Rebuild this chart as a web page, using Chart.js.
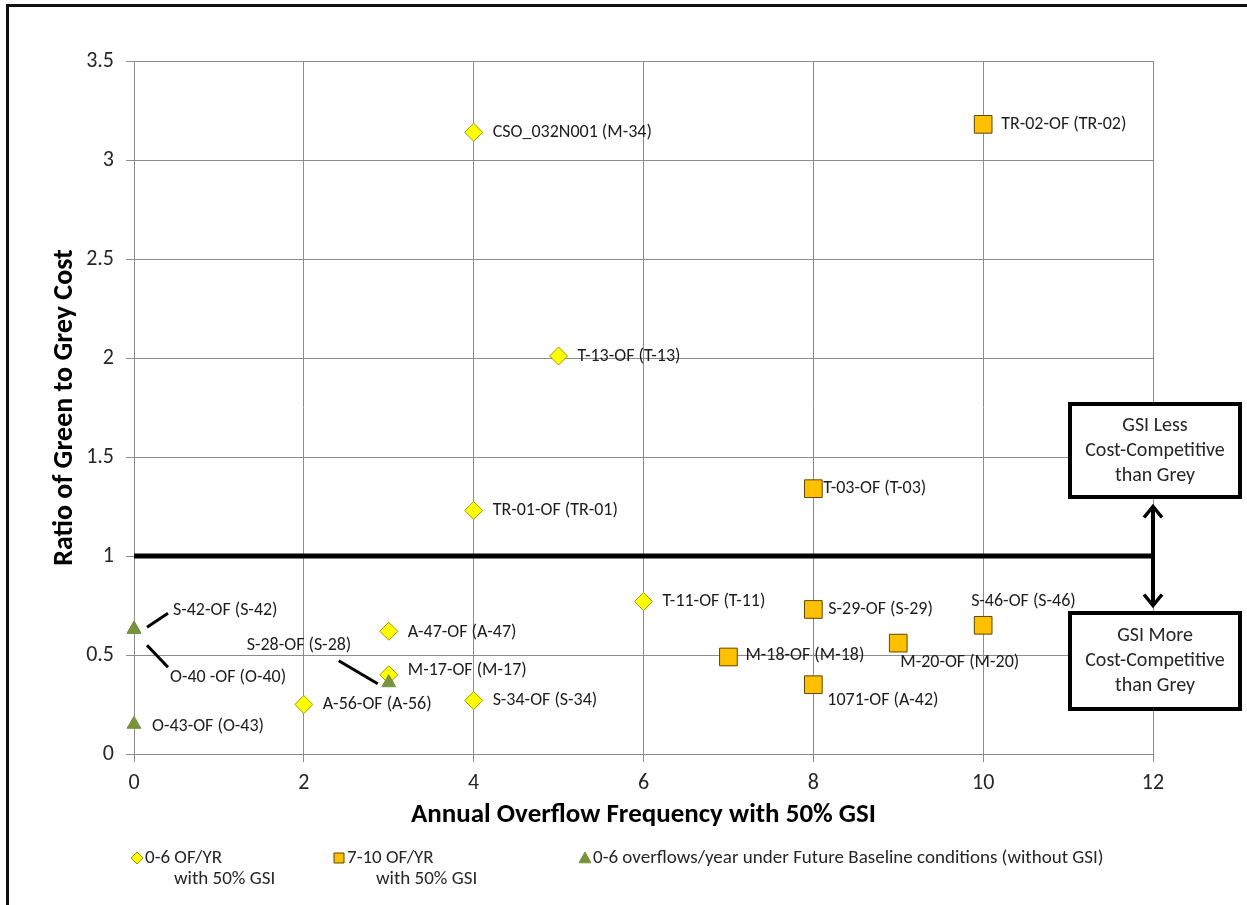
<!DOCTYPE html>
<html>
<head>
<meta charset="utf-8">
<script src="https://cdn.jsdelivr.net/npm/chart.js@4.4.1/dist/chart.umd.min.js"></script>
<style>
html, body { margin: 0; padding: 0; background: #fff; overflow: hidden; }
#wrap { position: relative; width: 1247px; height: 905px; }
#frame { position: absolute; left: 6px; top: 4px; width: 1270px; height: 930px; border: 3px solid #111; box-sizing: border-box; pointer-events: none; }
</style>
</head>
<body>
<div id="wrap"><canvas id="chart"></canvas><div id="frame"></div></div>
<script>
// Green vs grey cost ratio scatter
var FONT = 'Carlito, Lato, sans-serif';

// axis ticks
var xTickValues = [0, 2, 4, 6, 8, 10, 12];
var yTickValues = [0, 0.5, 1, 1.5, 2, 2.5, 3, 3.5];
var xTitle = 'Annual Overflow Frequency with 50% GSI';
var yTitle = 'Ratio of Green to Grey Cost';

// 0-6 OF/YR with 50% GSI (diamonds)
var diamondNames = ['CSO_032N001 (M-34)', 'T-13-OF (T-13)', 'TR-01-OF (TR-01)', 'T-11-OF (T-11)', 'A-47-OF (A-47)', 'M-17-OF (M-17)', 'S-34-OF (S-34)', 'A-56-OF (A-56)'];
var diamondX = [4, 5, 4, 6, 3, 3, 4, 2];
var diamondY = [3.14, 2.01, 1.23, 0.77, 0.62, 0.40, 0.27, 0.25];

// 7-10 OF/YR with 50% GSI (squares)
var squareNames = ['TR-02-OF (TR-02)', 'T-03-OF (T-03)', 'S-29-OF (S-29)', 'S-46-OF (S-46)', 'M-20-OF (M-20)', 'M-18-OF (M-18)', '1071-OF (A-42)'];
var squareX = [10, 8, 8, 10, 9, 7, 8];
var squareY = [3.18, 1.34, 0.73, 0.65, 0.56, 0.49, 0.35];

// 0-6 overflows/year under future baseline (triangles)
var triangleNames = ['S-42-OF (S-42)', 'O-40 -OF (O-40)', 'S-28-OF (S-28)', 'O-43-OF (O-43)'];
var triangleX = [0, 0, 3, 0];
var triangleY = [0.63, 0.63, 0.36, 0.15];

// threshold line at ratio 1 and the arrow between the two notes
var thresholdX = [0, 12];
var thresholdY = [1, 1];
var arrowX = 12;
var arrowY = [1.25, 0.75];

var legendText = [['0-6 OF/YR', 'with 50% GSI'], ['7-10 OF/YR', 'with 50% GSI'], ['0-6 overflows/year under Future Baseline conditions (without GSI)']];
var noteUpper = ['GSI Less', 'Cost-Competitive', 'than Grey'];
var noteLower = ['GSI More', 'Cost-Competitive', 'than Grey'];

// label placement (pixels from the marker), leader lines where needed
var diamondLabelPos = [[19, 0], [19, 0], [19, 0], [19, 0], [19, 1], [19, -4], [19, 0], [19, 0]];
var squareLabelPos = [[18, 0], [10, 0], [15, 0], [-12, -24], [2, 19], [17, -1], [14, 16]];
var triangleLabelPos = [[39, -19, 13, -2, 34, -16], [36, 48, 13, 16, 34, 38], [-142, -37, -50, -22, -11, 1], [18, 2]];

function pts(xs, ys) {
    return xs.map(function(x, i) { return {x: x, y: ys[i]}; });
}

var labelPlugin = {
    id: 'pointLabels',
    afterDatasetsDraw: function(chart) {
        var ctx = chart.ctx;
        ctx.save();
        ctx.font = '18px ' + FONT;
        ctx.fillStyle = '#1c1c1c';
        ctx.textBaseline = 'middle';
        ctx.textAlign = 'left';
        chart.data.datasets.forEach(function(ds, di) {
            if (!ds.names) return;
            var meta = chart.getDatasetMeta(di);
            meta.data.forEach(function(el, i) {
                var p = ds.labelPos[i];
                ctx.fillText(ds.names[i], el.x + p[0], el.y + p[1]);
                if (p.length > 2) {
                    ctx.beginPath();
                    ctx.strokeStyle = '#000';
                    ctx.lineWidth = 3;
                    ctx.moveTo(el.x + p[2], el.y + p[3]);
                    ctx.lineTo(el.x + p[4], el.y + p[5]);
                    ctx.stroke();
                }
            });
        });
        ctx.restore();
    }
};

function marker(ctx, style, x, y, s, fill, stroke) {
    ctx.beginPath();
    if (style === 'rectRot') {
        ctx.moveTo(x, y - s); ctx.lineTo(x + s, y); ctx.lineTo(x, y + s); ctx.lineTo(x - s, y);
    } else if (style === 'rect') {
        ctx.rect(x - s, y - s, 2 * s, 2 * s);
    } else {
        ctx.moveTo(x, y - s); ctx.lineTo(x + s, y + s * 0.8); ctx.lineTo(x - s, y + s * 0.8);
    }
    ctx.closePath();
    ctx.fillStyle = fill; ctx.fill();
    ctx.strokeStyle = stroke; ctx.lineWidth = 1; ctx.stroke();
}

function note(ctx, cx, top, bottom, lines) {
    var w = 170;
    ctx.fillStyle = '#fff';
    ctx.fillRect(cx - w / 2, top, w, bottom - top);
    ctx.strokeStyle = '#000';
    ctx.lineWidth = 4;
    ctx.strokeRect(cx - w / 2, top, w, bottom - top);
    ctx.fillStyle = '#262626';
    ctx.font = '20px ' + FONT;
    ctx.textAlign = 'center';
    ctx.textBaseline = 'middle';
    var mid = (top + bottom) / 2;
    lines.forEach(function(t, i) { ctx.fillText(t, cx, mid + (i - 1) * 25); });
}

var notesPlugin = {
    id: 'notes',
    afterDraw: function(chart) {
        var ctx = chart.ctx, xs = chart.scales.x, ys = chart.scales.y;
        var ax = xs.getPixelForValue(arrowX);
        var y1 = ys.getPixelForValue(arrowY[0]), y2 = ys.getPixelForValue(arrowY[1]);
        var base = ys.getPixelForValue(1);
        ctx.save();
        // double arrow
        ctx.strokeStyle = '#000';
        ctx.lineWidth = 4;
        ctx.lineCap = 'butt';
        ctx.beginPath();
        ctx.moveTo(ax, y1 + 2); ctx.lineTo(ax, y2 - 2);
        ctx.stroke();
        ctx.lineWidth = 3.5;
        ctx.beginPath();
        ctx.moveTo(ax - 9, y1 + 11); ctx.lineTo(ax, y1); ctx.lineTo(ax + 9, y1 + 11);
        ctx.moveTo(ax - 9, y2 - 11); ctx.lineTo(ax, y2); ctx.lineTo(ax + 9, y2 - 11);
        ctx.stroke();
        note(ctx, ax + 2, base - 152, base - 59, noteUpper);
        note(ctx, ax + 2, base + 57, base + 153, noteLower);

        // legend
        var dsets = [chart.data.datasets[1], chart.data.datasets[2], chart.data.datasets[0]];
        var lx = [137, 339, 585], ly = 858;
        ctx.font = '19px ' + FONT;
        ctx.textAlign = 'left';
        ctx.textBaseline = 'middle';
        dsets.forEach(function(ds, i) {
            marker(ctx, ds.pointStyle, lx[i], ly, ds.pointStyle === 'rect' ? 5 : 6, ds.backgroundColor, ds.borderColor);
            ctx.fillStyle = '#262626';
            ctx.fillText(legendText[i][0], lx[i] + 8, ly);
            if (legendText[i][1]) ctx.fillText(legendText[i][1], lx[i] + 37, ly + 21);
        });
        ctx.restore();
    }
};

var gridColor = '#8c8c8c';

new Chart(document.getElementById('chart'), {
    type: 'scatter',
    data: {
        datasets: [
            {
                label: legendText[2][0], data: pts(triangleX, triangleY), names: triangleNames, labelPos: triangleLabelPos,
                pointStyle: 'triangle', pointRadius: 8, backgroundColor: '#77933C', borderColor: '#77933C', borderWidth: 1, order: 0, clip: false
            },
            {
                label: legendText[0].join(' '), data: pts(diamondX, diamondY), names: diamondNames, labelPos: diamondLabelPos,
                pointStyle: 'rectRot', pointRadius: 9, backgroundColor: '#FFFF00', borderColor: '#9A9A00', borderWidth: 1, order: 1, clip: false
            },
            {
                label: legendText[1].join(' '), data: pts(squareX, squareY), names: squareNames, labelPos: squareLabelPos,
                pointStyle: 'rect', pointRadius: 12.5, backgroundColor: '#FFC000', borderColor: '#5E4700', borderWidth: 1, order: 2, clip: false
            },
            {
                label: 'threshold', data: pts(thresholdX, thresholdY), showLine: true, pointRadius: 0,
                borderColor: '#000', borderWidth: 5, order: 3
            }
        ]
    },
    options: {
        responsive: true,
        maintainAspectRatio: false,
        animation: false,
        layout: { padding: { left: 0, top: 61, right: 94, bottom: 0 } },
        plugins: { legend: { display: false }, tooltip: { enabled: false } },
        scales: {
            x: {
                type: 'linear', min: 0, max: 12,
                afterBuildTicks: function(s) { s.ticks = xTickValues.map(function(v) { return {value: v}; }); },
                afterFit: function(s) { s.height = 151; },
                grid: { color: gridColor, tickLength: 8 },
                border: { color: gridColor },
                ticks: { font: { family: FONT, size: 22 }, color: '#262626', padding: 8, maxRotation: 0 },
                title: { display: true, text: xTitle, color: '#000', font: { family: FONT, size: 27, weight: 'bold' }, padding: { top: 0, bottom: 74 } }
            },
            y: {
                type: 'linear', min: 0, max: 3.5,
                afterBuildTicks: function(s) { s.ticks = yTickValues.map(function(v) { return {value: v}; }); },
                afterFit: function(s) { s.width = 134; },
                grid: { color: gridColor, tickLength: 8 },
                border: { color: gridColor },
                ticks: { font: { family: FONT, size: 22 }, color: '#262626', padding: 12, callback: function(v) { return String(v); } },
                title: { display: true, text: yTitle, color: '#000', font: { family: FONT, size: 28, weight: 'bold' }, padding: { top: 48, bottom: 0 } }
            }
        }
    },
    plugins: [labelPlugin, notesPlugin]
});
</script>
</body>
</html>
